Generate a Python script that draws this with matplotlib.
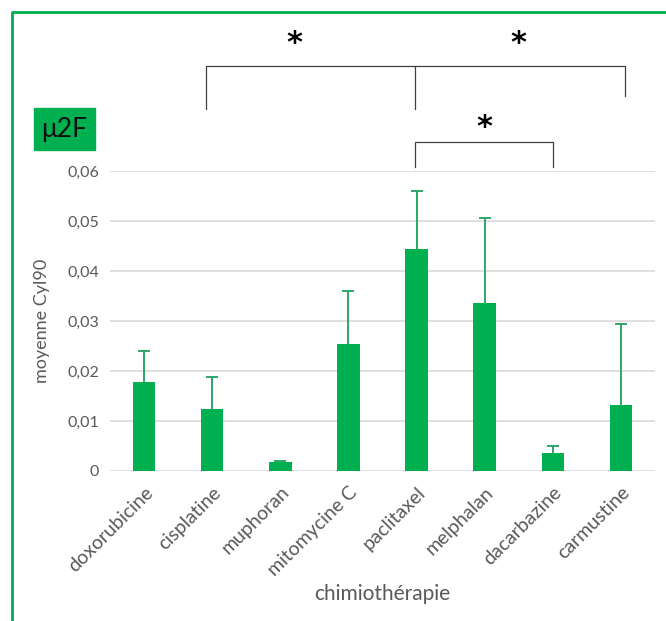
import matplotlib
matplotlib.use("Agg")
import matplotlib.pyplot as plt
from matplotlib.patches import Rectangle
from matplotlib.lines import Line2D

categories = ["doxorubicine", "cisplatine", "muphoran", "mitomycine C",
              "paclitaxel", "melphalan", "dacarbazine", "carmustine"]
means = [0.0179, 0.0124, 0.0019, 0.0255, 0.0444, 0.0337, 0.0037, 0.0132]
err_up = [0.0062, 0.0065, 0.0001, 0.0106, 0.0117, 0.0169, 0.0014, 0.0163]
yticks = [0, 0.01, 0.02, 0.03, 0.04, 0.05, 0.06]
ytick_labels = ["0", "0,01", "0,02", "0,03", "0,04", "0,05", "0,06"]

plt.rcParams['font.family'] = ['Lato', 'DejaVu Sans']

GREEN = "#00b050"
GRAY = "#595959"

fig = plt.figure(figsize=(6.66, 6.21), dpi=100)
ax = fig.add_axes([110/666, 1-471/621, 545/666, 300/621])

x = list(range(len(categories)))
ax.bar(x, means, width=0.33, color=GREEN, zorder=3)
eb = ax.errorbar(x, means, yerr=[[0]*len(means), err_up], fmt='none',
                 ecolor="#2ea66a", elinewidth=1.4, capsize=4, capthick=1.4, zorder=4)
caps = eb.lines[1]
if len(caps) == 2:
    caps[0].set_visible(False)

ax.set_xlim(-0.5, len(categories)-0.5)
ax.set_ylim(0, 0.06)
ax.set_yticks(yticks)
ax.set_yticklabels(ytick_labels, color=GRAY, fontsize=11.5)
ax.set_xticks(x)
ax.set_xticklabels(categories, rotation=45, ha='right', rotation_mode='anchor',
                   color=GRAY, fontsize=14)
ax.tick_params(axis='y', length=0, pad=8)
ax.tick_params(axis='x', length=0, pad=9)
ax.yaxis.grid(True, color="#d9d9d9", lw=1.2, zorder=0)
ax.set_axisbelow(True)
for s in ax.spines.values():
    s.set_visible(False)
ax.set_ylabel("moyenne Cyl90", color=GRAY, fontsize=13, labelpad=12)
ax.set_xlabel("chimiothérapie", color=GRAY, fontsize=15, labelpad=4)

# significance brackets
LC = "#404040"
ax.plot([1-0.09, 1-0.09, 7+0.06, 7+0.06], [0.0724, 0.081, 0.081, 0.0750],
        color=LC, lw=0.9, clip_on=False)
ax.plot([4-0.03, 4-0.03], [0.081, 0.0724], color=LC, lw=0.9, clip_on=False)
ax.plot([4-0.03, 4-0.03, 6, 6], [0.0608, 0.0658, 0.0658, 0.0608],
        color=LC, lw=0.9, clip_on=False)
star_kw = dict(ha='center', va='center', fontsize=22, color='black',
               fontweight='bold', family=['DejaVu Sans'])
ax.text(2.2, 0.0854, "*", **star_kw)
ax.text(5.5, 0.0854, "*", **star_kw)
ax.text(5.0, 0.0686, "*", **star_kw)

# μ2F label box
fig.patches.append(Rectangle((34/666, 1-150/621), 61/666, 42/621,
                             transform=fig.transFigure, color=GREEN, zorder=1))
fig.text(64/666, 1-130/621, "μ2F", ha='center', va='center', fontsize=19, color='#101010')

# green frame (left and top visible)
fig.lines.append(Line2D([12/666, 12/666, 1.0], [0.0, 1-12/621, 1-12/621],
                        transform=fig.transFigure, color=GREEN, lw=2))

fig.savefig("out.png", dpi=100)
